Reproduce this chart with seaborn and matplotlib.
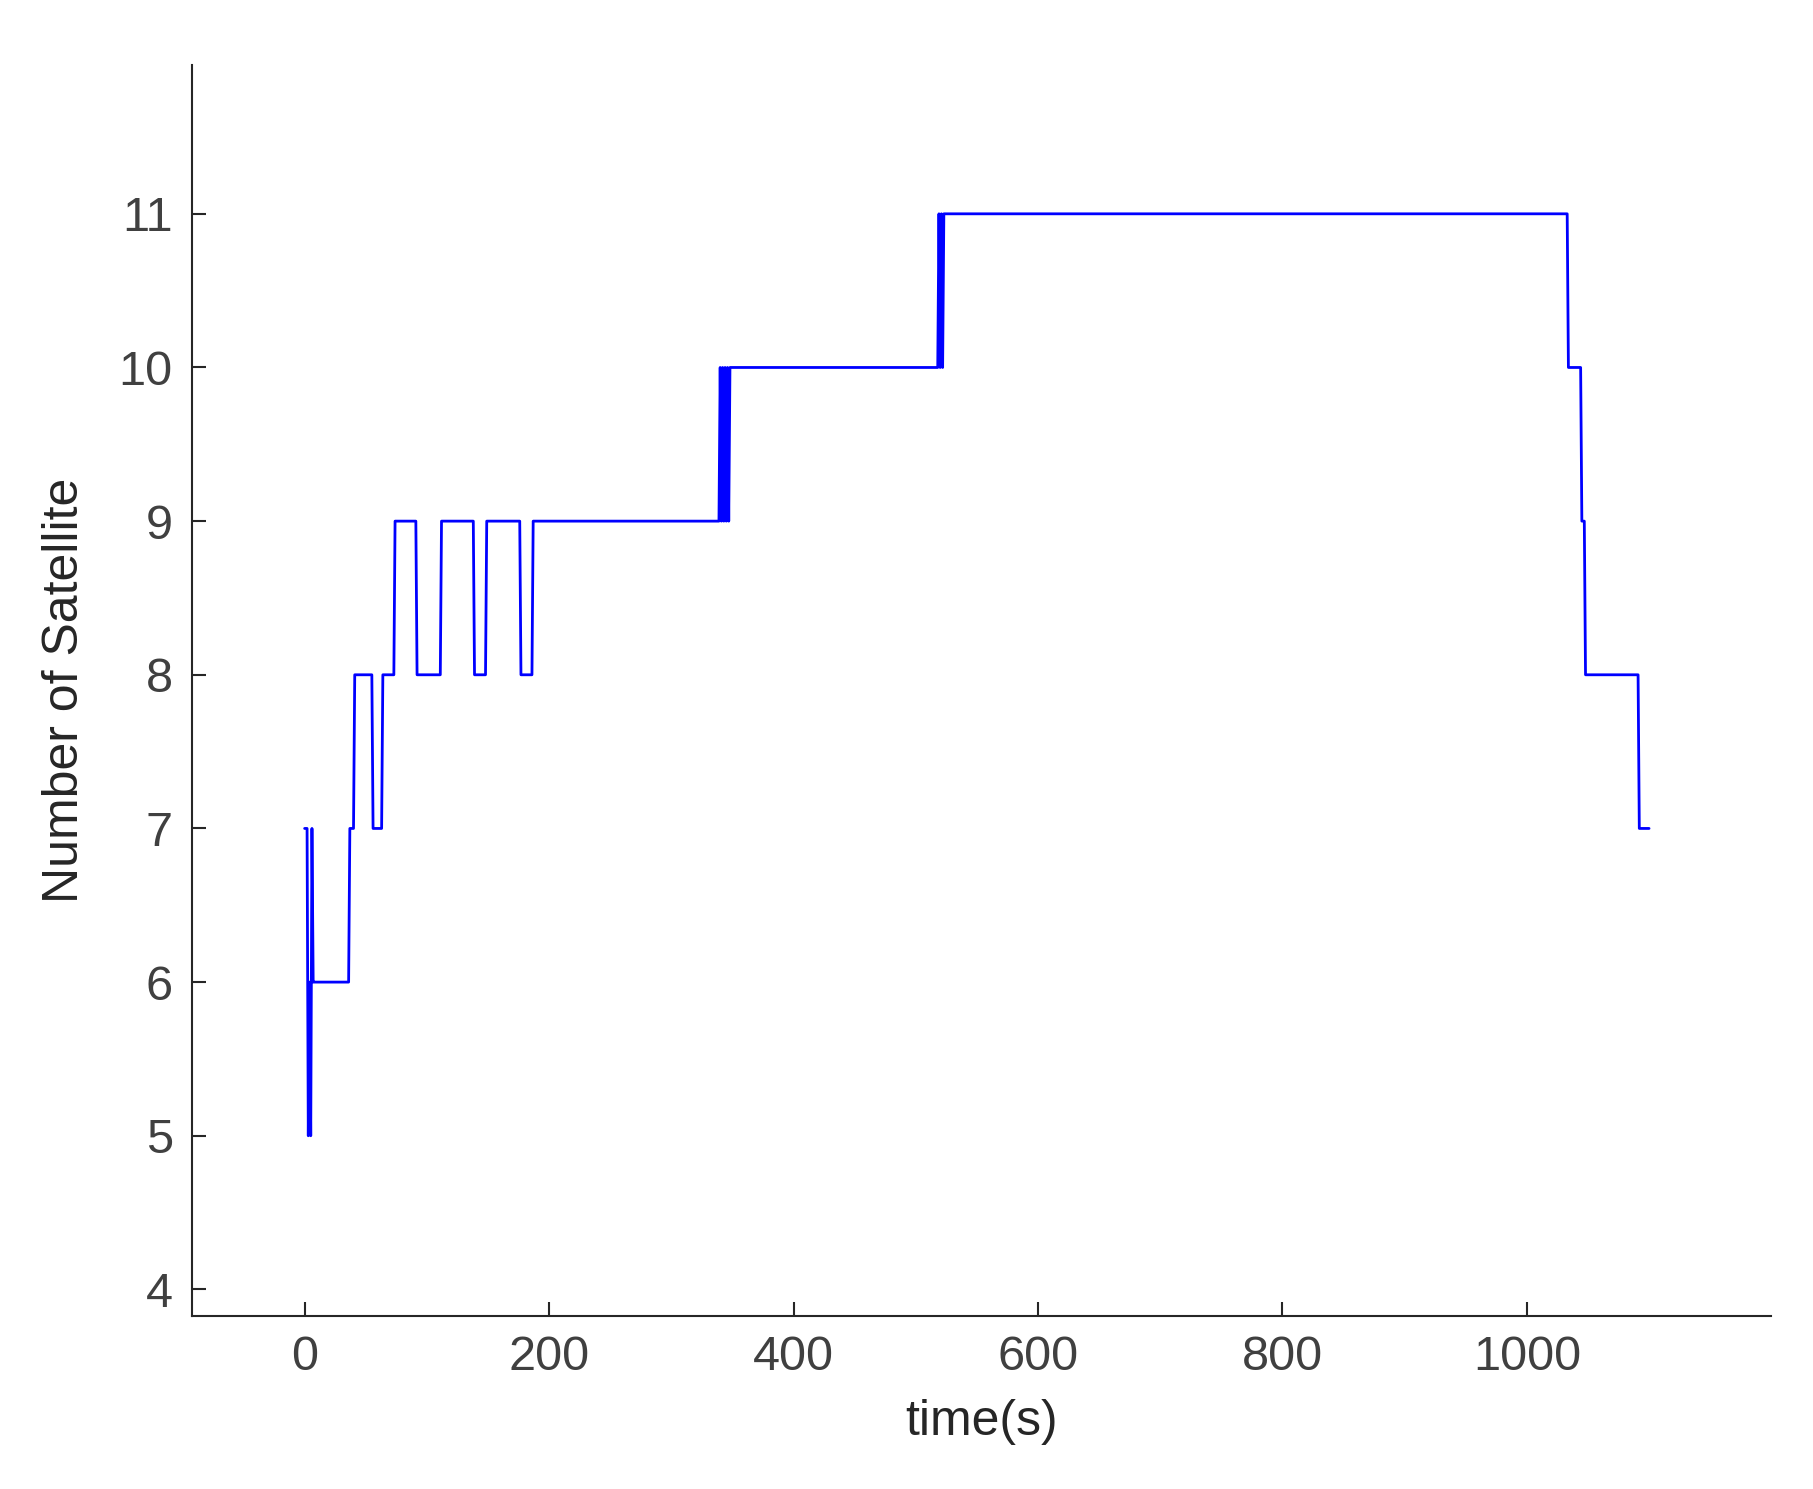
import matplotlib
matplotlib.use("Agg")
import matplotlib.pyplot as plt
import seaborn as sns
import pandas as pd

# breakpoints of the satellite count trace (time in s, count)
time_s = [0, 2, 3, 4, 5, 6, 7, 8, 9, 36, 37, 40, 41, 55, 56, 63, 64, 73, 74, 91, 92,
          111, 112, 138, 139, 148, 149, 176, 177, 186, 187, 339, 340, 341, 342, 343,
          344, 345, 346, 347, 348, 518, 519, 520, 521, 522, 523, 1033, 1034, 1044,
          1045, 1047, 1048, 1091, 1092, 1100]
n_sat = [7, 7, 5, 6, 5, 7, 6, 6, 6, 6, 7, 7, 8, 8, 7, 7, 8, 8, 9, 9, 8,
         8, 9, 9, 8, 8, 9, 9, 8, 8, 9, 9, 10, 9, 10, 9, 10, 9, 10, 9, 10,
         10, 11, 10, 11, 10, 11, 11, 10, 10, 9, 9, 8, 8, 7, 7]

df = pd.DataFrame({"time": time_s, "n": n_sat})

sns.set_theme(style="ticks")
plt.rcParams['font.family'] = ['Liberation Sans', 'DejaVu Sans']

fig = plt.figure(figsize=(18.13, 14.89), dpi=100)
ax = fig.add_axes([0.106, 0.1165, 0.871, 0.84])
sns.lineplot(data=df, x="time", y="n", color="#0000ff", linewidth=2, ax=ax,
             sort=False, estimator=None)

ax.set_xlim(-92, 1200)
ax.set_ylim(3.83, 11.97)
ax.set_xticks([0, 200, 400, 600, 800, 1000])
ax.set_yticks(range(4, 12))
ax.set_xlabel("time(s)", fontsize=36, color="#262626", labelpad=14)
ax.set_ylabel("Number of Satellite", fontsize=36, color="#262626", labelpad=22)
ax.tick_params(direction="in", length=10, width=1.5, labelsize=35,
               labelcolor="#404040", color="#262626", pad=14)
for s in ["top", "right"]:
    ax.spines[s].set_visible(False)
for s in ["left", "bottom"]:
    ax.spines[s].set_linewidth(1.5)
    ax.spines[s].set_color("#262626")

fig.savefig("out.png", dpi=100)
